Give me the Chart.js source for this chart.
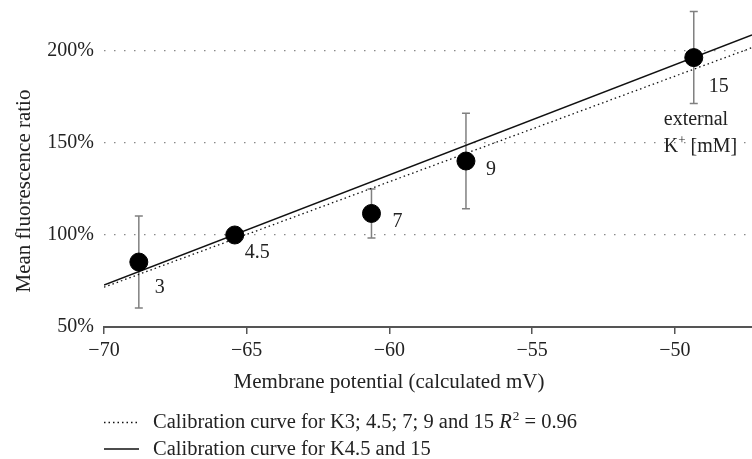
<!DOCTYPE html>
<html>
<head>
<meta charset="utf-8">
<script src="https://cdn.jsdelivr.net/npm/chart.js@4.4.1/dist/chart.umd.min.js"></script>
<style>
html, body { margin: 0; padding: 0; background: #fff; }
</style>
</head>
<body>
<canvas id="calibChart" width="752" height="459"></canvas>
<script>
// measured points (external K+ concentration labels)
const potentials = [-68.78, -65.42, -60.63, -57.32, -49.34];
const ratios = [85.3, 100, 111.7, 140.2, 196.4];
const errors = [25, 0, 13.3, 26, 25];
const concLabels = ['3', '4.5', '7', '9', '15'];

// calibration lines
const fitX = [-70, -47.3];
const fitAllY = [71.6, 201.8];
const fitTwoY = [72.8, 208.7];

const xTicks = [-70, -65, -60, -55, -50];
const yTicks = [50, 100, 150, 200];

const FONT = '"Liberation Serif", "Times New Roman", serif';
const FS = 20;
const labelOffsets = [[16, 31], [10, 23], [21, 14], [20, 14], [15, 34]];

const extras = {
    id: 'extras',
    beforeDatasetsDraw(chart) {
        const { ctx, scales: { x, y } } = chart;
        ctx.save();
        ctx.strokeStyle = '#808080';
        ctx.lineWidth = 1.5;
        potentials.forEach((p, i) => {
            if (!errors[i]) return;
            const px = x.getPixelForValue(p);
            const top = y.getPixelForValue(ratios[i] + errors[i]);
            const bot = y.getPixelForValue(ratios[i] - errors[i]);
            ctx.beginPath();
            ctx.moveTo(px, top); ctx.lineTo(px, bot);
            ctx.moveTo(px - 4, top); ctx.lineTo(px + 4, top);
            ctx.moveTo(px - 4, bot); ctx.lineTo(px + 4, bot);
            ctx.stroke();
        });
        ctx.restore();
    },
    afterDraw(chart) {
        const { ctx, scales: { x, y } } = chart;
        ctx.save();
        ctx.fillStyle = '#222';
        ctx.font = FS + 'px ' + FONT;
        ctx.textBaseline = 'alphabetic';
        ctx.textAlign = 'left';

        // point labels
        potentials.forEach((p, i) => {
            const px = x.getPixelForValue(p);
            const py = y.getPixelForValue(ratios[i]);
            ctx.fillText(concLabels[i], px + labelOffsets[i][0], py + labelOffsets[i][1]);
        });
        const lx = x.getPixelForValue(potentials[4]) - 30;
        const ly = y.getPixelForValue(ratios[4]);
        ctx.fillText('external', lx, ly + 67);
        ctx.fillText('K', lx, ly + 94);
        let w = ctx.measureText('K').width;
        ctx.font = (FS * 0.65) + 'px ' + FONT;
        ctx.fillText('+', lx + w, ly + 86);
        w += ctx.measureText('+').width;
        ctx.font = FS + 'px ' + FONT;
        ctx.fillText(' [mM]', lx + w, ly + 94);

        // axis titles
        ctx.font = '21px ' + FONT;
        ctx.textAlign = 'center';
        ctx.fillText('Membrane potential (calculated mV)', 389, 388);
        ctx.save();
        ctx.translate(30, 191);
        ctx.rotate(-Math.PI / 2);
        ctx.fillText('Mean fluorescence ratio', 0, 0);
        ctx.restore();

        // legend
        const LF = 20.5;
        ctx.font = LF + 'px ' + FONT;
        ctx.textAlign = 'left';
        ctx.strokeStyle = '#111';
        ctx.lineWidth = 1.3;
        ctx.setLineDash([1.5, 3]);
        ctx.beginPath(); ctx.moveTo(104, 422.5); ctx.lineTo(139, 422.5); ctx.stroke();
        ctx.setLineDash([]);
        ctx.lineWidth = 1.5;
        ctx.beginPath(); ctx.moveTo(104, 449); ctx.lineTo(139, 449); ctx.stroke();

        let tx = 153;
        const t1 = 'Calibration curve for K3; 4.5; 7; 9 and 15 ';
        ctx.fillText(t1, tx, 428);
        tx += ctx.measureText(t1).width;
        ctx.font = 'italic ' + LF + 'px ' + FONT;
        ctx.fillText('R', tx, 428);
        tx += ctx.measureText('R').width;
        ctx.font = (LF * 0.65) + 'px ' + FONT;
        ctx.fillText('2', tx + 1, 420);
        tx += ctx.measureText('2').width + 1;
        ctx.font = LF + 'px ' + FONT;
        ctx.fillText(' = 0.96', tx, 428);
        ctx.fillText('Calibration curve for K4.5 and 15', 153, 455);
        ctx.restore();
    }
};

const ctx = document.getElementById('calibChart').getContext('2d');
new Chart(ctx, {
    type: 'scatter',
    data: {
        datasets: [{
            label: 'points',
            data: potentials.map((p, i) => ({ x: p, y: ratios[i] })),
            backgroundColor: '#000',
            borderColor: '#000',
            pointRadius: 9,
            order: 0
        }, {
            label: 'Calibration curve for K4.5 and 15',
            data: fitX.map((v, i) => ({ x: v, y: fitTwoY[i] })),
            showLine: true,
            borderColor: '#111',
            borderWidth: 1.5,
            pointRadius: 0,
            order: 1
        }, {
            label: 'Calibration curve for K3; 4.5; 7; 9 and 15',
            data: fitX.map((v, i) => ({ x: v, y: fitAllY[i] })),
            showLine: true,
            borderColor: '#111',
            borderWidth: 1.3,
            borderDash: [1.5, 3],
            pointRadius: 0,
            order: 2
        }]
    },
    options: {
        responsive: false,
        animation: false,
        layout: { padding: 0, autoPadding: false },
        plugins: {
            legend: { display: false },
            tooltip: { enabled: false }
        },
        scales: {
            x: {
                type: 'linear',
                min: -70,
                max: -47.3,
                afterBuildTicks: s => { s.ticks = xTicks.map(v => ({ value: v })); },
                afterFit: s => { s.height = 132; s.paddingLeft = 0; s.paddingRight = 0; },
                ticks: {
                    padding: 5,
                    color: '#222',
                    font: { family: FONT, size: FS },
                    callback: v => (v < 0 ? '\u2212' : '') + Math.abs(v)
                },
                grid: { drawOnChartArea: false, drawTicks: true, tickLength: 7, color: '#555', lineWidth: 1.5 },
                border: { display: true, color: '#555', width: 2 }
            },
            y: {
                min: 50,
                max: 227.7,
                afterBuildTicks: s => { s.ticks = yTicks.map(v => ({ value: v })); },
                afterFit: s => { s.width = 104; s.paddingTop = 0; s.paddingBottom = 0; },
                ticks: {
                    padding: 10,
                    color: '#222',
                    font: { family: FONT, size: FS },
                    callback: v => v + '%'
                },
                grid: {
                    drawTicks: false,
                    color: c => (c.tick && c.tick.value === 50) ? 'rgba(0,0,0,0)' : '#888',
                    lineWidth: 1.2
                },
                border: { display: false, dash: [1.5, 8.5] }
            }
        }
    },
    plugins: [extras]
});
</script>
</body>
</html>
